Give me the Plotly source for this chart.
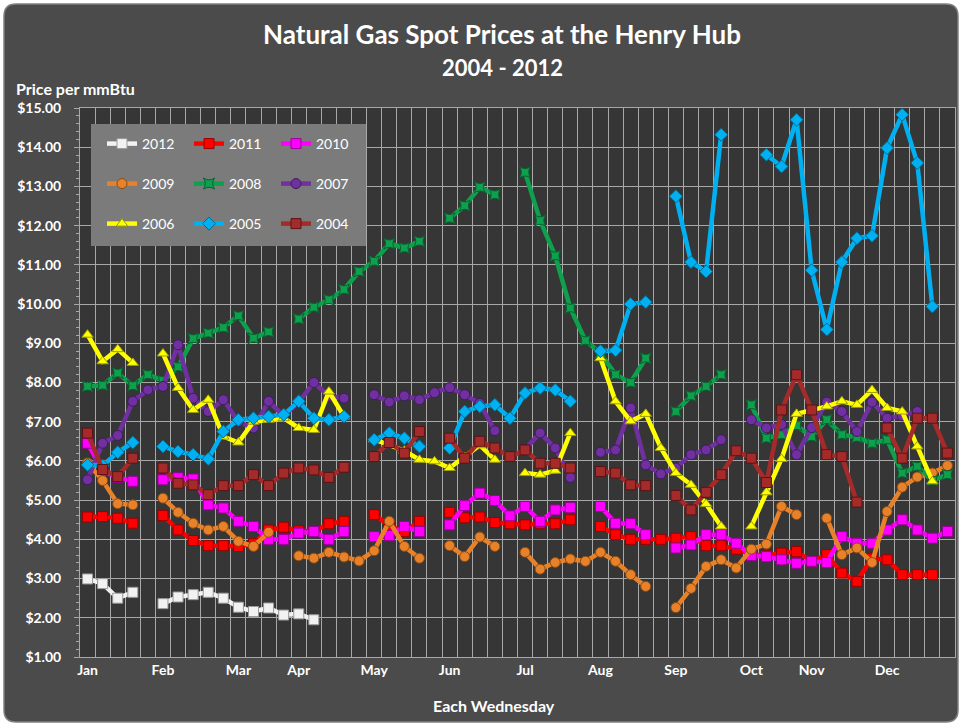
import plotly.graph_objects as go

# ---------------- data ----------------
weeks = list(range(58))
month_names = ["Jan", "Feb", "Mar", "Apr", "May", "Jun", "Jul", "Aug", "Sep", "Oct", "Nov", "Dec"]
month_start_week = [0, 5, 10, 14, 19, 24, 29, 34, 39, 44, 48, 53]

p2012 = [2.99, 2.87, 2.50, 2.65, None,
         2.36, 2.53, 2.59, 2.65, 2.50,
         2.27, 2.16, 2.25, 2.07,
         2.10, 1.95, None, None, None] + [None] * 39

p2011 = [4.57, 4.58, 4.54, 4.41, None,
         4.61, 4.24, 3.97, 3.84, 3.84,
         3.82, 3.89, 4.24, 4.31,
         4.22, 4.20, 4.40, 4.46, None,
         4.63, 4.35, 4.20, 4.46, None,
         4.69, 4.55, 4.57, 4.43, 4.40,
         4.37, 4.40, 4.40, 4.50, None,
         4.33, 4.12, 4.00, 4.00, 4.00,
         4.03, 4.07, 3.84, 3.84, 3.75,
         3.62, 3.58, 3.65, 3.69,
         3.44, 3.61, 3.14, 2.93, 3.52,
         3.48, 3.10, 3.10, 3.10, None]

p2010 = [6.45, 5.75, 5.58, 5.48, None,
         5.52, 5.57, 5.54, 4.88, 4.80,
         4.46, 4.33, 4.00, 4.00,
         4.16, 4.20, 4.00, 4.20, None,
         4.07, 4.10, 4.33, 4.20, None,
         4.37, 4.86, 5.18, 4.99, 4.60,
         4.84, 4.46, 4.75, 4.81, None,
         4.84, 4.41, 4.40, 4.12, None,
         3.78, 3.86, 4.12, 4.12, 3.90,
         3.59, 3.56, 3.48, 3.39,
         3.44, 3.41, 4.07, 3.90, 3.90,
         4.24, 4.50, 4.24, 4.03, 4.20]

p2009 = [5.95, 5.50, 4.91, 4.88, None,
         5.05, 4.69, 4.41, 4.24, 4.33,
         3.95, 3.82, 4.18, None,
         3.58, 3.52, 3.67, 3.55, 3.45,
         3.71, 4.46, 3.82, 3.52, None,
         3.84, 3.56, 4.06, 3.82, None,
         3.67, 3.24, 3.41, 3.50, 3.44,
         3.67, 3.44, 3.10, 2.80, None,
         2.26, 2.75, 3.31, 3.48, 3.27,
         3.75, 3.88, 4.84, 4.63,
         None, 4.54, 3.61, 3.78, 3.41,
         4.71, 5.33, 5.59, 5.69, 5.88]

p2008 = [7.90, 7.93, 8.24, 7.92, 8.20,
         8.05, 8.40, 9.12, 9.26, 9.40,
         9.70, 9.13, 9.29, None,
         9.62, 9.92, 10.11, 10.37, 10.83,
         11.09, 11.54, 11.43, 11.60, None,
         12.19, 12.51, 12.98, 12.79, None,
         13.36, 12.13, 11.23, 9.90, 9.07,
         8.75, 8.20, 8.00, 8.62, None,
         7.26, 7.66, 7.90, 8.20, None,
         7.43, 6.58, 6.67, 6.90,
         6.62, 7.05, 6.67, 6.60, 6.45,
         6.54, 5.69, 5.86, 5.50, 5.65]

p2007 = [5.52, 6.45, 6.65, 7.52, 7.81,
         7.90, 8.96, 7.60, 7.26, 7.56,
         7.00, 6.84, 7.52, 7.15,
         7.50, 8.00, 7.65, 7.60, None,
         7.69, 7.50, 7.66, 7.56, 7.74,
         7.87, 7.69, 7.47, 6.77, None,
         6.30, 6.71, 6.33, 5.58, None,
         6.22, 6.28, 7.35, 5.90, 5.67,
         5.82, 6.16, 6.28, 6.54, None,
         7.05, 6.84, 6.93, 6.16,
         6.85, 7.50, 7.26, 6.75, 7.50,
         7.09, 7.15, 7.26, None, None]

p2006 = [9.22, 8.54, 8.85, 8.50, None,
         8.74, 7.86, 7.30, 7.56, 6.62,
         6.47, 7.00, 7.05, 7.09,
         6.84, 6.79, 7.77, 7.13, None,
         6.55, 6.42, 6.26, 6.03, 5.99,
         5.82, 6.10, 6.40, 6.03, None,
         5.69, 5.65, 5.75, 6.71, None,
         8.62, 7.52, 7.01, 7.20, 6.33,
         5.69, 5.39, 4.90, 4.33, None,
         4.33, 5.20, 6.05, 7.20,
         7.30, 7.39, 7.52, 7.43, 7.81,
         7.35, 7.26, 6.37, 5.48, None]

p2005 = [5.90, 5.88, 6.22, 6.47, None,
         6.37, 6.24, 6.16, 6.05, 6.75,
         7.05, 7.09, 7.13, 7.18,
         7.52, 7.09, 7.05, 7.13, None,
         6.54, 6.71, 6.58, 6.37, None,
         6.33, 7.26, 7.39, 7.43, 7.09,
         7.73, 7.86, 7.81, 7.52, None,
         8.80, 8.82, 10.00, 10.05, None,
         12.75, 11.07, 10.83, 14.32, None,
         None, 13.81, 13.51, 14.70,
         10.86, 9.35, 11.07, 11.68, 11.74,
         13.98, 14.83, 13.60, 9.94, None]

p2004 = [6.71, 5.78, 5.60, 6.07, None,
         5.82, 5.43, 5.39, 5.14, 5.37,
         5.37, 5.65, 5.37, 5.69,
         5.82, 5.77, 5.58, 5.84, None,
         6.11, 6.47, 6.20, 6.75, None,
         6.58, 6.07, 6.50, 6.33, 6.11,
         6.28, 5.94, 5.94, 5.82, None,
         5.73, 5.69, 5.39, 5.37, None,
         5.12, 4.75, 5.20, 5.65, 6.26,
         6.07, 5.45, 7.30, 8.20,
         7.30, 6.16, 6.11, 4.95, None,
         6.84, 6.07, 7.09, 7.09, 6.20]

years = ["2012", "2011", "2010", "2009", "2008", "2007", "2006", "2005", "2004"]
series = [p2012, p2011, p2010, p2009, p2008, p2007, p2006, p2005, p2004]

# ---------------- style ----------------
colors = ["#f2f2f2", "#ff0000", "#ff00ff", "#e8822a", "#0fa04e",
          "#7030a0", "#ffff00", "#00b0f0", "#a52a2a"]
edge = ["#9a9a9a", "#9a0000", "#9a009a", "#8a4a10", "#06602e",
        "#401a60", "#9a9a00", "#006a90", "#5a1414"]
symbols = ["square", "square", "square", "circle", "star-square",
           "circle", "triangle-up", "diamond", "square"]
legend_of = ["legend", "legend", "legend", "legend2", "legend2",
             "legend2", "legend3", "legend3", "legend3"]

FONT = "Lato"
WHITE = "#ffffff"
GRID = "#a8a8a8"

FW, FH = 962, 728
L, R, T, B = 80, 7, 108, 71
PW = FW - L - R
PH = FH - T - B


def xp(px):
    return (px - L) / PW


def yp(py):
    return (FH - B - py) / PH


fig = go.Figure()
for yr, vals, c, e, s, lg in zip(years, series, colors, edge, symbols, legend_of):
    fig.add_trace(go.Scatter(
        x=weeks, y=vals, name=yr, mode="lines+markers",
        connectgaps=False, legend=lg,
        line=dict(color=c, width=4.5),
        marker=dict(symbol=s, size=10, color=c, line=dict(color=e, width=1)),
        hoverinfo="x+y+name",
    ))

# rounded chart background
x0, x1, y0, y1 = 4, 958, 4, 722
rx, ry = 12 / PW, 12 / PH
X0, X1, Y0, Y1 = xp(x0), xp(x1), yp(y1), yp(y0)
path = (f"M{X0 + rx},{Y1} L{X1 - rx},{Y1} Q{X1},{Y1} {X1},{Y1 - ry} "
        f"L{X1},{Y0 + ry} Q{X1},{Y0} {X1 - rx},{Y0} L{X0 + rx},{Y0} "
        f"Q{X0},{Y0} {X0},{Y0 + ry} L{X0},{Y1 - ry} Q{X0},{Y1} {X0 + rx},{Y1} Z")

shapes = [
    dict(type="path", path=path, xref="paper", yref="paper",
         fillcolor="#4b4b4b", line=dict(color="#808080", width=1.5), layer="below"),
    dict(type="rect", xref="paper", yref="paper", x0=0, x1=1, y0=0, y1=1,
         fillcolor="#363636", line=dict(width=0), layer="below"),
    dict(type="rect", xref="paper", yref="paper",
         x0=xp(91), x1=xp(366), y0=yp(246), y1=yp(124),
         fillcolor="#7b7b7b", line=dict(width=0), layer="above"),
]

annotations = [
    dict(text="<b>Natural Gas Spot Prices at the Henry Hub</b>", xref="paper", yref="paper",
         x=xp(502), y=yp(34), xanchor="center", yanchor="middle", showarrow=False,
         font=dict(family=FONT, size=26, color=WHITE)),
    dict(text="<b>2004 - 2012</b>", xref="paper", yref="paper",
         x=xp(502), y=yp(67), xanchor="center", yanchor="middle", showarrow=False,
         font=dict(family=FONT, size=22, color=WHITE)),
    dict(text="<b>Price per mmBtu</b>", xref="paper", yref="paper",
         x=xp(14), y=yp(88), xanchor="left", yanchor="middle", showarrow=False,
         font=dict(family=FONT, size=16, color=WHITE)),
    dict(text="<b>Each Wednesday</b>", xref="paper", yref="paper",
         x=xp(494), y=yp(705), xanchor="center", yanchor="middle", showarrow=False,
         font=dict(family=FONT, size=16, color=WHITE)),
]

leg_common = dict(orientation="h", xanchor="left", yanchor="top",
                  bgcolor="rgba(0,0,0,0)", font=dict(family=FONT, size=14, color=WHITE),
                  entrywidth=42, entrywidthmode="pixels", itemwidth=30,
                  traceorder="normal", tracegroupgap=0)

fig.update_layout(
    width=FW, height=FH,
    margin=dict(l=L, r=R, t=T, b=B, pad=0),
    paper_bgcolor="#ffffff",
    plot_bgcolor="rgba(0,0,0,0)",
    showlegend=True,
    legend=dict(x=xp(102), y=yp(128), **leg_common),
    legend2=dict(x=xp(102), y=yp(168), **leg_common),
    legend3=dict(x=xp(102), y=yp(208), **leg_common),
    shapes=shapes,
    annotations=annotations,
    font=dict(family=FONT, color=WHITE),
    xaxis=dict(
        range=[-0.5, 57.5], tickmode="array", tickvals=month_start_week,
        ticktext=month_names, showgrid=False, zeroline=False,
        showline=True, linecolor=GRID, linewidth=1, mirror=True, ticks="",
        tickfont=dict(family=FONT, size=14, color=WHITE, weight="bold"),
        minor=dict(tickmode="linear", tick0=-0.5, dtick=1, showgrid=True,
                   gridcolor=GRID, gridwidth=1, ticks=""),
        fixedrange=True,
    ),
    yaxis=dict(
        range=[1, 15], tick0=1, dtick=1, tickformat="$.2f",
        showgrid=True, gridcolor=GRID, gridwidth=1, zeroline=False,
        showline=True, linecolor=GRID, linewidth=1, mirror=True,
        ticks="outside", ticklen=5, tickcolor=GRID, ticklabelstandoff=10,
        minor=dict(dtick=0.2, ticks="outside", ticklen=3, tickcolor=GRID, showgrid=False),
        tickfont=dict(family=FONT, size=14, color=WHITE, weight="bold"),
        fixedrange=True,
    ),
)

fig.write_html("out.html", config={"displayModeBar": False},
               post_script="document.body.style.margin='0';")
